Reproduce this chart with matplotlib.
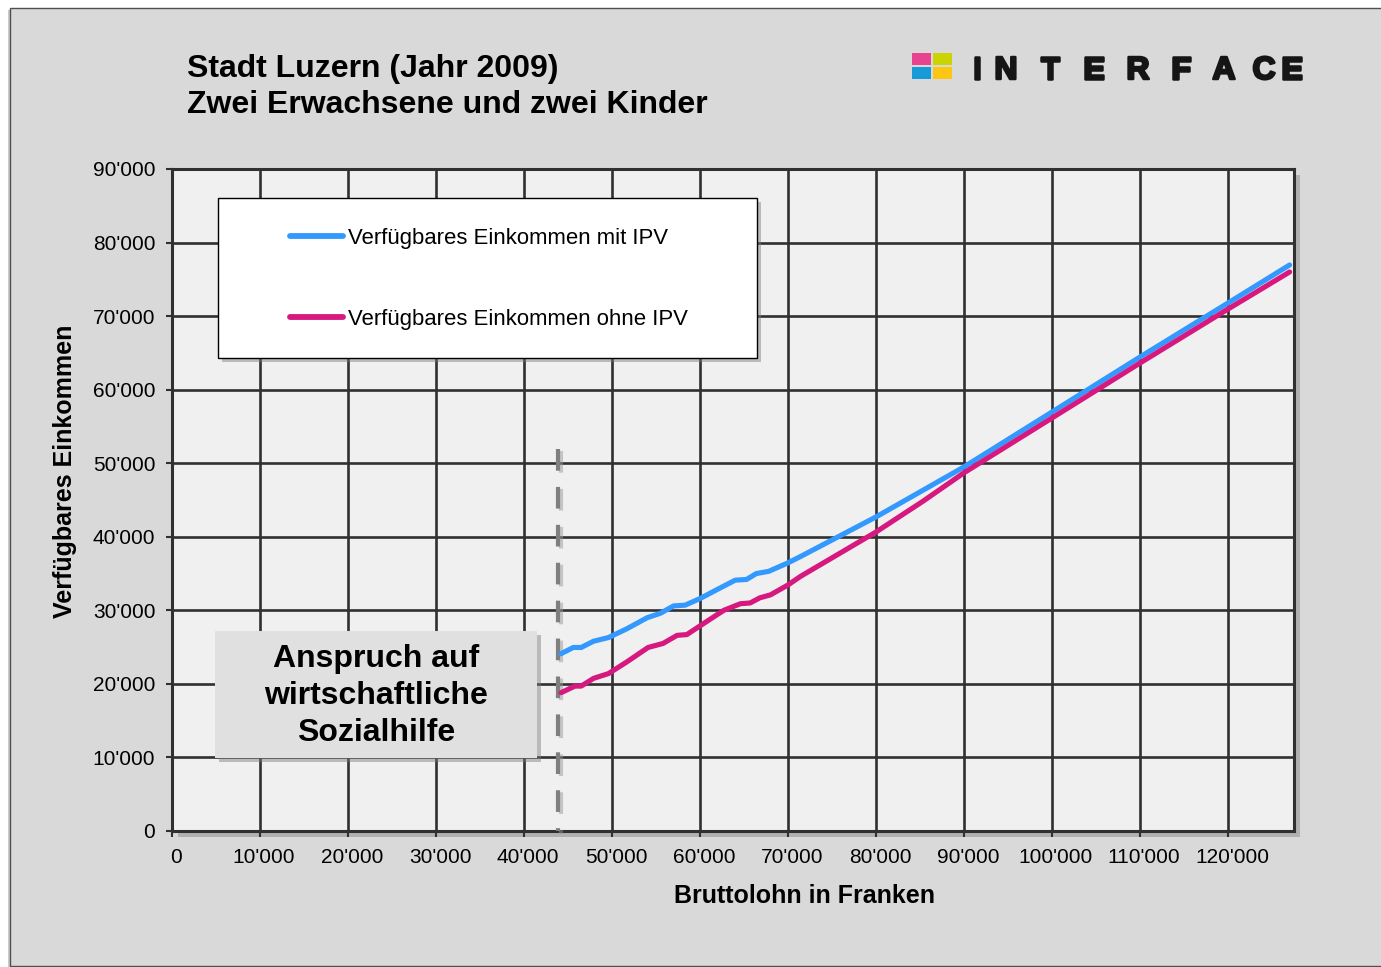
import matplotlib
matplotlib.use('Agg')
import matplotlib.pyplot as plt
from matplotlib.patches import Rectangle
import matplotlib.patheffects as pe
from matplotlib.ticker import FuncFormatter
from matplotlib.lines import Line2D
from matplotlib.transforms import ScaledTranslation

# ---------------- data ----------------
title_lines = ["Stadt Luzern (Jahr 2009)", "Zwei Erwachsene und zwei Kinder"]
series_names = ["Verfügbares Einkommen mit IPV", "Verfügbares Einkommen ohne IPV"]

x_mit = [44200, 45600, 46500, 47900, 49600, 51700, 54000, 55500, 57000, 58300,
         60000, 61900, 64000, 65300, 66400, 67800, 69900, 71400, 80000, 85300,
         90000, 100000, 110000, 120000, 127000]
y_mit = [24100, 24950, 24950, 25800, 26300, 27500, 29000, 29600, 30600, 30700,
         31600, 32800, 34100, 34200, 35000, 35300, 36400, 37300, 42700, 46300,
         49500, 56960, 64440, 71780, 76950]

x_ohne = [44200, 45800, 46500, 47900, 49600, 51700, 54100, 55800, 57400, 58500,
          60400, 62700, 64600, 65700, 66800, 68000, 70000, 71400, 80000, 85300,
          90000, 100000, 110000, 120000, 127000]
y_ohne = [18800, 19700, 19700, 20750, 21400, 23000, 24950, 25500, 26600, 26700,
          28200, 30000, 30900, 31000, 31700, 32100, 33450, 34600, 40650, 44800,
          48700, 56150, 63620, 70960, 76000]

sozialhilfe_grenze = 43900
sozialhilfe_top = 52000
annotation_text = "Anspruch auf\nwirtschaftliche\nSozialhilfe"
x_ticks = list(range(0, 120001, 10000))
y_ticks = list(range(0, 90001, 10000))
x_label = "Bruttolohn in Franken"
y_label = "Verfügbares Einkommen"
logo_letters = list("INTERFACE")

# ---------------- style ----------------
W, H = 1381, 967
plt.rcParams['font.family'] = ['Liberation Sans', 'DejaVu Sans']
fig = plt.figure(figsize=(W / 100, H / 100), dpi=100)
fig.patch.set_facecolor('white')

def fx(px):
    return px / W

def fy(py):
    return 1 - py / H

shadow_patch = [pe.SimplePatchShadow(offset=(3, -3), shadow_rgbFace='#7a7a7a', alpha=0.45), pe.Normal()]

# outer frame
frame = Rectangle((fx(10), fy(966)), 1.0, fy(8) - fy(966), transform=fig.transFigure,
                  facecolor='#d9d9d9', edgecolor='#505050', lw=1.0, zorder=-5)
frame.set_path_effects([pe.SimplePatchShadow(offset=(-1.5, -1.5), shadow_rgbFace='#999999', alpha=0.5), pe.Normal()])
fig.patches.append(frame)

ax = fig.add_axes([fx(172), fy(831), fx(1294) - fx(172), fy(169) - fy(831)])
ax.set_zorder(1)
ax.set_facecolor('#f0f0f0')
ax.patch.set_path_effects([pe.SimplePatchShadow(offset=(4, -4), shadow_rgbFace='#8a8a8a', alpha=0.5), pe.Normal()])

ax.set_xlim(0, 127500)
ax.set_ylim(0, 90000)
ax.set_xticks(x_ticks)
ax.set_yticks(y_ticks)
fmt = FuncFormatter(lambda v, p: f"{int(v):,}".replace(',', "'"))
ax.xaxis.set_major_formatter(fmt)
ax.yaxis.set_major_formatter(fmt)
ax.grid(True, color='#303030', lw=1.9)
ax.set_axisbelow(True)
for s in ax.spines.values():
    s.set_color('#303030')
    s.set_linewidth(2.2)
ax.tick_params(direction='out', length=4, width=1.5, color='#303030', labelsize=15, pad=8)
shift = ScaledTranslation(4 / 100, 0, fig.dpi_scale_trans)
for lab in ax.get_xticklabels():
    lab.set_transform(lab.get_transform() + shift)

blue = '#3399ff'
pink = '#d6187f'
ax.plot(x_mit, y_mit, color=blue, lw=3.7, solid_capstyle='round', solid_joinstyle='round', zorder=4)
ax.plot(x_ohne, y_ohne, color=pink, lw=3.7, solid_capstyle='round', solid_joinstyle='round', zorder=4)

# dashed threshold line
ax.plot([sozialhilfe_grenze, sozialhilfe_grenze], [sozialhilfe_top, 0], color='#7f7f7f', lw=3.0,
        ls=(0, (5.2, 3.9)), solid_capstyle='butt', clip_on=False, zorder=3,
        path_effects=[pe.SimpleLineShadow(offset=(2, -2), shadow_color='#999999', alpha=0.5), pe.Normal()])

# legend box
lbox = Rectangle((fx(218), fy(358)), fx(757) - fx(218), fy(198) - fy(358), transform=fig.transFigure,
                 facecolor='white', edgecolor='black', lw=1.0, zorder=5, clip_on=False)
lbox.set_path_effects(shadow_patch)
ax.add_patch(lbox)
h1 = Line2D([], [], color=blue, lw=4.2, solid_capstyle='round')
h2 = Line2D([], [], color=pink, lw=4.2, solid_capstyle='round')
leg = ax.legend([h1, h2], series_names, loc='upper left', bbox_to_anchor=(fx(290), fy(228)),
                bbox_transform=fig.transFigure, frameon=False, borderpad=0, borderaxespad=0,
                handlelength=2.4, handletextpad=0.22, labelspacing=2.72, fontsize=15.9)
leg.set_zorder(6)

# annotation box
abox = Rectangle((fx(215), fy(758)), fx(537) - fx(215), fy(631) - fy(758), transform=fig.transFigure,
                 facecolor='#e0e0e0', edgecolor='none', zorder=5, clip_on=False)
abox.set_path_effects(shadow_patch)
ax.add_patch(abox)
ax.text(fx(376), fy(696), annotation_text, transform=fig.transFigure, ha='center', va='center',
        fontsize=23, fontweight='bold', linespacing=1.32, zorder=6)

# titles and axis labels
fig.text(fx(187), fy(77), title_lines[0], fontsize=23, fontweight='bold', va='baseline')
fig.text(fx(187), fy(113), title_lines[1], fontsize=23, fontweight='bold', va='baseline')
fig.text(fx(65), fy(471), y_label, rotation=90, fontsize=18, fontweight='bold', ha='center', va='center')
fig.text(fx(804), fy(896), x_label, fontsize=18, fontweight='bold', ha='center', va='center')

# logo
sq = [((912, 53), '#e8438f'), ((933, 53), '#c9d400'), ((912, 67), '#199ad8'), ((933, 67), '#fdc613')]
for (px, py), c in sq:
    fig.patches.append(Rectangle((fx(px), fy(py + 12)), 19 / W, 12 / H, transform=fig.transFigure,
                                 facecolor=c, edgecolor='none', zorder=2))
letter_x = [977, 1006, 1050, 1094, 1138, 1181, 1224, 1264, 1292]
for lx, ch in zip(letter_x, logo_letters):
    fig.text(fx(lx), fy(79), ch, fontsize=23, fontweight='bold', ha='center', va='baseline',
             color='#151515', path_effects=[pe.withStroke(linewidth=1.8, foreground='#151515')])

fig.savefig('out.png', dpi=100, facecolor=fig.get_facecolor())
